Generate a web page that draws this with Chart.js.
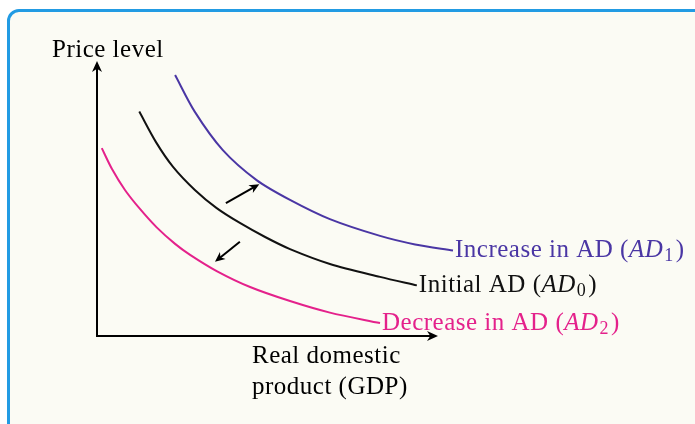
<!DOCTYPE html>
<html>
<head>
<meta charset="utf-8">
<script src="https://cdn.jsdelivr.net/npm/chart.js@4"></script>
<style>
  html, body { margin: 0; padding: 0; background: #fff; overflow: hidden; }
  .frame {
    position: absolute; left: 7px; top: 9px; width: 760px; height: 480px;
    border: 3.5px solid #229be3; border-radius: 12px; background: #fbfbf4;
  }
  .wrap { position: absolute; left: 0; top: 0; width: 695px; height: 424px; }
</style>
</head>
<body>
<div class="frame"></div>
<div class="wrap"><canvas id="chart-ad" width="695" height="424"></canvas></div>
<script>
/* ============================================================
   AD SHIFT DIAGRAM
============================================================ */
// curve points (x = real GDP, y = price level, 0-100)
const ad1X = [22.9, 28.7, 36.9, 46.8, 56.6, 68.3, 83.0, 93.3, 104.4];
const ad1Y = [94.9, 81.5, 67.6, 56.7, 49.5, 42.5, 36.4, 33.3, 31.1];
const ad0X = [12.4, 17.3, 22.3, 28.7, 35.1, 41.9, 49.3, 56.6, 68.3, 83.0, 93.8];
const ad0Y = [81.6, 70.5, 61.5, 53.1, 46.5, 41.1, 36.0, 31.6, 26.2, 21.5, 18.4];
const ad2X = [1.4, 4.4, 8.2, 12.6, 17.5, 22.9, 27.3, 35.1, 44.9, 56.6, 68.3, 83.0];
const ad2Y = [68.3, 60.7, 53.1, 46.2, 39.5, 33.5, 29.5, 23.6, 17.8, 12.7, 8.5, 4.7];

const curveNames = ['Increase in AD (', 'Initial AD (', 'Decrease in AD ('];
const curveSubs = ['1', '0', '2'];
const curveColors = ['#4a36a4', '#111111', '#e4218b'];

// shift arrows: [fromX, fromY, toX, toY]
const shiftArrows = [[37.8, 48.3, 47.6, 55.2], [41.9, 34.3, 34.6, 27.0]];

const yTitle = 'Price level';
const xTitle = ['Real domestic', 'product (GDP)'];

const FONT = '"Liberation Serif", "DejaVu Serif", serif';
const FS = 25;

function pts(xs, ys) { return xs.map((x, i) => ({ x: x, y: ys[i] })); }

function arrowHead(ctx, x1, y1, x2, y2, len, wid) {
  const a = Math.atan2(y2 - y1, x2 - x1);
  ctx.beginPath();
  ctx.moveTo(x2, y2);
  ctx.lineTo(x2 - len * Math.cos(a) + wid * Math.sin(a), y2 - len * Math.sin(a) - wid * Math.cos(a));
  ctx.lineTo(x2 - len * 0.7 * Math.cos(a), y2 - len * 0.7 * Math.sin(a));
  ctx.lineTo(x2 - len * Math.cos(a) - wid * Math.sin(a), y2 - len * Math.sin(a) + wid * Math.cos(a));
  ctx.closePath();
  ctx.fill();
}

const decorPlugin = {
  id: 'decor',
  afterDatasetsDraw(chart) {
    const ctx = chart.ctx;
    const xs = chart.scales.x, ys = chart.scales.y;
    const x0 = xs.getPixelForValue(0), y0 = ys.getPixelForValue(0);
    const xEnd = xs.getPixelForValue(100), yEnd = ys.getPixelForValue(100);
    ctx.save();
    // axes
    ctx.strokeStyle = '#000'; ctx.fillStyle = '#000'; ctx.lineWidth = 2;
    ctx.beginPath();
    ctx.moveTo(x0, yEnd + 4); ctx.lineTo(x0, y0); ctx.lineTo(xEnd - 4, y0);
    ctx.stroke();
    arrowHead(ctx, x0, y0, x0, yEnd, 11, 5);
    arrowHead(ctx, x0, y0, xEnd, y0, 11, 5);

    // shift arrows
    ctx.lineWidth = 2;
    shiftArrows.forEach(a => {
      const p1 = [xs.getPixelForValue(a[0]), ys.getPixelForValue(a[1])];
      const p2 = [xs.getPixelForValue(a[2]), ys.getPixelForValue(a[3])];
      const ang = Math.atan2(p2[1] - p1[1], p2[0] - p1[0]);
      ctx.beginPath();
      ctx.moveTo(p1[0], p1[1]);
      ctx.lineTo(p2[0] - 6 * Math.cos(ang), p2[1] - 6 * Math.sin(ang));
      ctx.stroke();
      arrowHead(ctx, p1[0], p1[1], p2[0], p2[1], 10, 4.5);
    });

    // curve labels
    ctx.textBaseline = 'alphabetic';
    ctx.textAlign = 'left';
    ctx.letterSpacing = '0.5px';
    chart.data.datasets.forEach((ds, i) => {
      const last = ds.data[ds.data.length - 1];
      let x = xs.getPixelForValue(last.x) + 2;
      const y = ys.getPixelForValue(last.y) + 7;
      ctx.fillStyle = curveColors[i];
      ctx.font = `${FS}px ${FONT}`;
      ctx.fillText(curveNames[i], x, y);
      x += ctx.measureText(curveNames[i]).width;
      ctx.font = `italic ${FS}px ${FONT}`;
      ctx.fillText('AD', x, y);
      x += ctx.measureText('AD').width + 1;
      ctx.font = `${Math.round(FS * 0.72)}px ${FONT}`;
      ctx.fillText(curveSubs[i], x, y + 4);
      x += ctx.measureText(curveSubs[i]).width + 2;
      ctx.font = `${FS}px ${FONT}`;
      ctx.fillText(')', x, y);
    });

    // axis titles
    ctx.fillStyle = '#000';
    ctx.font = `${FS}px ${FONT}`;
    ctx.fillText(yTitle, 52, 57);
    ctx.fillText(xTitle[0], 252, 363);
    ctx.fillText(xTitle[1], 252, 394);
    ctx.restore();
  }
};

new Chart(document.getElementById('chart-ad'), {
  type: 'scatter',
  data: {
    datasets: [
      { label: 'AD1', data: pts(ad1X, ad1Y), borderColor: curveColors[0] },
      { label: 'AD0', data: pts(ad0X, ad0Y), borderColor: curveColors[1] },
      { label: 'AD2', data: pts(ad2X, ad2Y), borderColor: curveColors[2] }
    ].map(d => Object.assign(d, {
      showLine: true, borderWidth: 2, pointRadius: 0, fill: false,
      tension: 0.3, clip: false
    }))
  },
  options: {
    responsive: false, animation: false,
    layout: { padding: { left: 97, top: 61, right: 257, bottom: 88 } },
    plugins: { legend: { display: false }, tooltip: { enabled: false } },
    scales: {
      x: { type: 'linear', min: 0, max: 100, display: false },
      y: { type: 'linear', min: 0, max: 100, display: false }
    }
  },
  plugins: [decorPlugin]
});
</script>
</body>
</html>
